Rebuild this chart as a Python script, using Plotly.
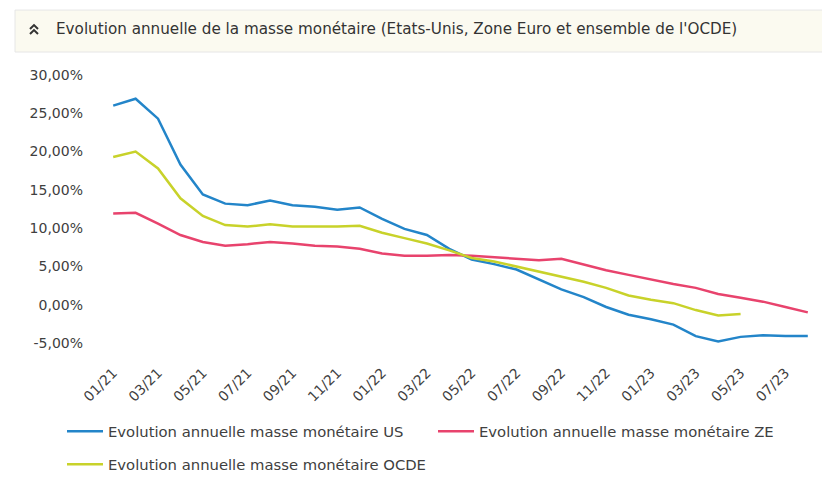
import plotly.graph_objects as go

months = ["01/21","02/21","03/21","04/21","05/21","06/21","07/21","08/21","09/21","10/21","11/21","12/21",
          "01/22","02/22","03/22","04/22","05/22","06/22","07/22","08/22","09/22","10/22","11/22","12/22",
          "01/23","02/23","03/23","04/23","05/23","06/23","07/23","08/23"]

us = [26.0, 26.9, 24.3, 18.3, 14.4, 13.2, 13.0, 13.6, 13.0, 12.8, 12.4, 12.7,
      11.2, 9.9, 9.1, 7.3, 5.9, 5.3, 4.6, 3.3, 2.0, 1.0, -0.3, -1.3,
      -1.9, -2.6, -4.1, -4.8, -4.2, -4.0, -4.1, -4.1]
ze = [11.9, 12.0, 10.6, 9.1, 8.2, 7.7, 7.9, 8.2, 8.0, 7.7, 7.6, 7.3,
      6.7, 6.4, 6.4, 6.5, 6.4, 6.2, 6.0, 5.8, 6.0, 5.2, 4.5, 3.9,
      3.3, 2.7, 2.2, 1.4, 0.9, 0.4, -0.3, -1.0]
ocde = [19.3, 20.0, 17.8, 13.9, 11.6, 10.4, 10.2, 10.5, 10.2, 10.2, 10.2, 10.3,
        9.4, 8.7, 8.0, 7.1, 6.1, 5.65, 5.0, 4.35, 3.7, 3.0, 2.2, 1.2,
        0.65, 0.2, -0.7, -1.4, -1.2, None, None, None]

x_ticks = months[::2]
y_ticks = [-5, 0, 5, 10, 15, 20, 25, 30]
y_tick_labels = ["-5,00%", "0,00%", "5,00%", "10,00%", "15,00%", "20,00%", "25,00%", "30,00%"]

title_text = "Evolution annuelle de la masse monétaire (Etats-Unis, Zone Euro et ensemble de l'OCDE)"
names = ["Evolution annuelle masse monétaire US",
         "Evolution annuelle masse monétaire ZE",
         "Evolution annuelle masse monétaire OCDE"]

# page has an 8px body margin; figure coords = page coords - 8
OFF = 8
W, H = 822, 478
L, R, T = 102 - OFF, 11, 75 - OFF
B = H - (343.3 - OFF)
PW, PH = W - L - R, H - T - B

def px(xp):
    return (xp - OFF - L) / PW

def py(yp):
    return (H - B - (yp - OFF)) / PH

FONT = "DejaVu Sans"
TXT = "#404040"

fig = go.Figure()
fig.add_trace(go.Scatter(x=months, y=us, mode="lines", name=names[0],
                         line=dict(color="#2385c9", width=2.5), legend="legend"))
fig.add_trace(go.Scatter(x=months, y=ze, mode="lines", name=names[1],
                         line=dict(color="#e8436d", width=2.5), legend="legend"))
fig.add_trace(go.Scatter(x=months, y=ocde, mode="lines", name=names[2],
                         line=dict(color="#c8d22a", width=2.5), legend="legend2"))

shapes = [
    dict(type="rect", xref="paper", yref="paper", x0=px(15), x1=px(835), y0=py(52), y1=py(10),
         fillcolor="#fbfaf0", line=dict(color="#e6e6e6", width=1), layer="below"),
    dict(type="path", xref="paper", yref="paper",
         path=f"M {px(30)} {py(29)} L {px(34)} {py(25)} L {px(38)} {py(29)}",
         line=dict(color="#333333", width=2)),
    dict(type="path", xref="paper", yref="paper",
         path=f"M {px(30)} {py(34)} L {px(34)} {py(30)} L {px(38)} {py(34)}",
         line=dict(color="#333333", width=2)),
]

fig.update_layout(
    width=W, height=H,
    margin=dict(l=L, r=R, t=T, b=B, autoexpand=False),
    paper_bgcolor="white", plot_bgcolor="white",
    font=dict(family=FONT, size=14, color=TXT),
    shapes=shapes,
    annotations=[dict(text=title_text, xref="paper", yref="paper", x=px(54), y=py(29),
                      xanchor="left", yanchor="middle", showarrow=False,
                      font=dict(family=FONT, size=15.2, color="#333333"))],
    xaxis=dict(type="category", range=[-0.5, 31.5], tickmode="array", tickvals=x_ticks,
               ticktext=x_ticks, tickangle=-45, showgrid=False, showline=False, zeroline=False,
               ticks="", ticklabelstandoff=18, tickfont=dict(size=14, color=TXT)),
    yaxis=dict(range=[-5, 30], tickmode="array", tickvals=y_ticks, ticktext=y_tick_labels,
               showgrid=False, showline=False, zeroline=False, ticks="", ticklabelstandoff=18,
               tickfont=dict(size=14, color=TXT)),
    legend=dict(orientation="h", x=px(62), y=py(432), xanchor="left", yanchor="middle",
                entrywidth=320, itemwidth=36, font=dict(size=14.8, color=TXT),
                bgcolor="rgba(0,0,0,0)"),
    legend2=dict(orientation="h", x=px(62), y=py(465), xanchor="left", yanchor="middle",
                 itemwidth=36, font=dict(size=14.8, color=TXT), bgcolor="rgba(0,0,0,0)"),
)

fig.write_html("out.html")
